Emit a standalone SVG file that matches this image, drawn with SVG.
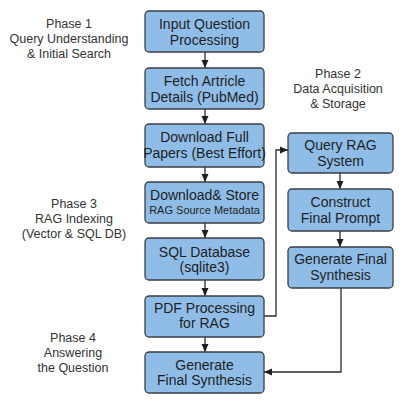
<svg xmlns="http://www.w3.org/2000/svg" width="409" height="409" viewBox="0 0 409 409">
<style>
.box{fill:#8fbde8;stroke:#3a3f45;stroke-width:1.3}
.t{font-family:"Liberation Sans",Arial,sans-serif;font-size:14px;fill:#1e1e1e;text-anchor:middle}
.ts{font-size:11px}
.ph{font-family:"Liberation Sans",Arial,sans-serif;font-size:12.5px;fill:#333;text-anchor:middle}
.c{fill:none;stroke:#2a2a2a;stroke-width:1.3}
</style>
<defs>
<marker id="ah" markerUnits="userSpaceOnUse" markerWidth="8" markerHeight="8" viewBox="0 0 8 8" refX="8" refY="4" orient="auto">
<path d="M0,0.5 L8,4 L0,7.5 Z" fill="#1e1e1e"/>
</marker>
</defs>
<rect width="409" height="409" fill="#ffffff"/>
<g id="labels">
<text class="ph" x="69" y="28">Phase 1</text>
<text class="ph" x="69" y="43">Query Understanding</text>
<text class="ph" x="69" y="58">&amp; Initial Search</text>
<text class="ph" x="338" y="78">Phase 2</text>
<text class="ph" x="338" y="93">Data Acquisition</text>
<text class="ph" x="338" y="108">&amp; Storage</text>
<text class="ph" x="74" y="208">Phase 3</text>
<text class="ph" x="74" y="223">RAG Indexing</text>
<text class="ph" x="74" y="238">(Vector &amp; SQL DB)</text>
<text class="ph" x="73" y="342">Phase 4</text>
<text class="ph" x="73" y="357">Answering</text>
<text class="ph" x="73" y="372">the Question</text>
</g>
<g id="connectors">
<path class="c" d="M205,52 V68" marker-end="url(#ah)"/>
<path class="c" d="M205,109 V124" marker-end="url(#ah)"/>
<path class="c" d="M205,167 V182" marker-end="url(#ah)"/>
<path class="c" d="M205,223 V238" marker-end="url(#ah)"/>
<path class="c" d="M205,280 V296" marker-end="url(#ah)"/>
<path class="c" d="M205,337 V352" marker-end="url(#ah)"/>
<path class="c" d="M340,173 V189" marker-end="url(#ah)"/>
<path class="c" d="M340,231 V247" marker-end="url(#ah)"/>
<path class="c" d="M264,316 H276 V150 H288" marker-end="url(#ah)"/>
<path class="c" d="M341,288 V372 H264" marker-end="url(#ah)"/>
</g>
<g id="n1"><rect class="box" x="145" y="11" width="119" height="41" rx="4"/>
<text class="t" x="204.5" y="29">Input Question</text><text class="t" x="204.5" y="45">Processing</text></g>
<g id="n2"><rect class="box" x="145" y="68" width="119" height="41" rx="4"/>
<text class="t" x="204.5" y="86">Fetch Artricle</text><text class="t" x="204.5" y="102">Details (PubMed)</text></g>
<g id="n3"><rect class="box" x="145" y="124" width="119" height="43" rx="4"/>
<text class="t" x="204.5" y="142">Download Full</text><text class="t" x="204.5" y="158" font-size="13.5">Papers (Best Effort)</text></g>
<g id="n4"><rect class="box" x="145" y="182" width="119" height="41" rx="4"/>
<text class="t" x="204.5" y="200" font-size="13">Download&amp; Store</text><text class="t ts" x="204.5" y="214">RAG Source Metadata</text></g>
<g id="n5"><rect class="box" x="145" y="238" width="119" height="42" rx="4"/>
<text class="t" x="204.5" y="257">SQL Database</text><text class="t" x="204.5" y="272">(sqlite3)</text></g>
<g id="n6"><rect class="box" x="145" y="296" width="119" height="41" rx="4"/>
<text class="t" x="204.5" y="313">PDF Processing</text><text class="t" x="204.5" y="328">for RAG</text></g>
<g id="n7"><rect class="box" x="145" y="352" width="119" height="41" rx="4"/>
<text class="t" x="204.5" y="370">Generate</text><text class="t" x="204.5" y="385">Final Synthesis</text></g>
<g id="r1"><rect class="box" x="288" y="133" width="105" height="40" rx="4"/>
<text class="t" x="340.5" y="150">Query RAG</text><text class="t" x="340.5" y="166">System</text></g>
<g id="r2"><rect class="box" x="288" y="189" width="105" height="42" rx="4"/>
<text class="t" x="340.5" y="207">Construct</text><text class="t" x="340.5" y="223">Final Prompt</text></g>
<g id="r3"><rect class="box" x="288" y="247" width="105" height="41" rx="4"/>
<text class="t" x="340.5" y="264">Generate Final</text><text class="t" x="340.5" y="280">Synthesis</text></g>
</svg>
